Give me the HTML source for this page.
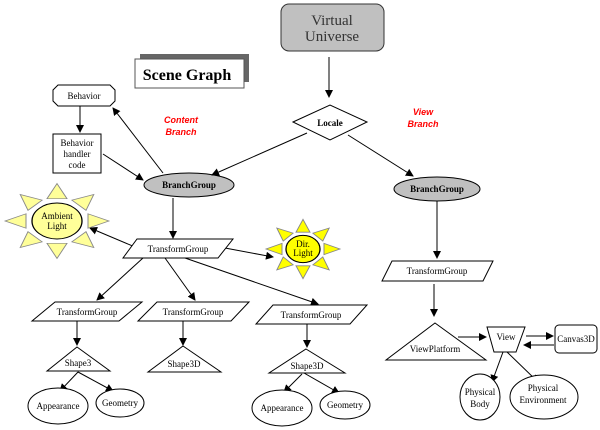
<!DOCTYPE html>
<html><head><style>
html,body{margin:0;padding:0;background:#fff;}
svg{display:block;}
text{font-family:"Liberation Serif",serif;font-size:9px;fill:#000;}
</style></head><body>
<svg width="600" height="430" viewBox="0 0 600 430" xmlns="http://www.w3.org/2000/svg">
<defs>
<marker id="a" markerWidth="8" markerHeight="8" refX="7" refY="4" orient="auto" markerUnits="userSpaceOnUse">
<path d="M0,0 L8,4 L0,8 z" fill="#000"/></marker>
<g id="ray"><path d="M31,-10 L31,10 L52,0 z"/></g>
<g id="ray2"><path d="M21,-7 L21,7 L37,0 z"/></g>
</defs>
<g stroke="#000" stroke-width="1" fill="none">
<!-- Virtual Universe -->
<rect x="281" y="4" width="103" height="47" rx="8" fill="#c0c0c0" stroke="#333"/>
<!-- Scene graph -->
<rect x="140" y="54" width="109" height="28" fill="#666" stroke="none"/>
<rect x="135" y="59" width="109" height="29" fill="#fff" stroke="#555"/>
<!-- Locale -->
<path d="M293,122 L330,105 L367,122 L330,140 z" fill="#fff"/>
<!-- Behavior -->
<path d="M58,85 L110,85 L115,90 L115,101 L110,106 L58,106 L53,101 L53,90 z" fill="#fff"/>
<rect x="53" y="134" width="48" height="39" fill="#fff"/>
<!-- BranchGroups -->
<ellipse cx="189" cy="185" rx="45" ry="12" fill="#c0c0c0"/>
<ellipse cx="437" cy="189" rx="43" ry="12" fill="#c0c0c0"/>
<!-- arrows -->
<g marker-end="url(#a)">
<line x1="329" y1="57" x2="329" y2="97"/>
<line x1="307" y1="133" x2="212" y2="175"/>
<line x1="348" y1="135" x2="413" y2="176"/>
<line x1="80" y1="106" x2="80" y2="132"/>
<line x1="103" y1="154" x2="143" y2="180"/>
<line x1="163" y1="173" x2="113" y2="108"/>
<line x1="173" y1="198" x2="173" y2="238"/>
<line x1="135" y1="247" x2="90" y2="228"/>
<line x1="225" y1="248" x2="273" y2="257"/>
<line x1="143" y1="258" x2="97" y2="300"/>
<line x1="165" y1="258" x2="195" y2="300"/>
<line x1="185" y1="258" x2="318" y2="304"/>
<line x1="77" y1="321" x2="77" y2="345"/>
<line x1="183" y1="321" x2="183" y2="345"/>
<line x1="307" y1="324" x2="307" y2="347"/>
<line x1="78" y1="372" x2="60" y2="391"/>
<line x1="78" y1="372" x2="113" y2="391"/>
<line x1="302" y1="374" x2="284" y2="392"/>
<line x1="304" y1="373" x2="339" y2="393"/>
<line x1="437" y1="201" x2="437" y2="258"/>
<line x1="434" y1="284" x2="434" y2="316"/>
<line x1="458" y1="337" x2="486" y2="337"/>
<line x1="526" y1="336" x2="553" y2="336"/>
<line x1="554" y1="345" x2="524" y2="345"/>
<line x1="503" y1="352" x2="492" y2="382"/>
<line x1="507" y1="352" x2="538" y2="382"/>
</g>
<!-- Suns -->
<g transform="translate(57,221) scale(1,0.72)" fill="#ffff99" stroke="#888">
<use href="#ray"/><use href="#ray" transform="rotate(45)"/><use href="#ray" transform="rotate(90)"/><use href="#ray" transform="rotate(135)"/>
<use href="#ray" transform="rotate(180)"/><use href="#ray" transform="rotate(225)"/><use href="#ray" transform="rotate(270)"/><use href="#ray" transform="rotate(315)"/>
<circle r="25" stroke="#000" stroke-width="1.3"/>
</g>
<g transform="translate(303,249) scale(1,0.8)" fill="#ffff00" stroke="#888">
<use href="#ray2"/><use href="#ray2" transform="rotate(45)"/><use href="#ray2" transform="rotate(90)"/><use href="#ray2" transform="rotate(135)"/>
<use href="#ray2" transform="rotate(180)"/><use href="#ray2" transform="rotate(225)"/><use href="#ray2" transform="rotate(270)"/><use href="#ray2" transform="rotate(315)"/>
<circle r="17" stroke="#000" stroke-width="1.3"/>
</g>
<!-- TransformGroups -->
<path d="M137,239 L233,239 L218,258 L123,258 z" fill="#fff"/>
<path d="M55,302 L142,302 L119,321 L32,321 z" fill="#fff"/>
<path d="M157,302 L249,302 L231,321 L138,321 z" fill="#fff"/>
<path d="M273,305 L367,305 L350,324 L256,324 z" fill="#fff"/>
<path d="M392,261 L493,261 L483,281 L382,281 z" fill="#fff"/>
<!-- Shapes -->
<path d="M77,347 L110,371 L47,371 z" fill="#fff"/>
<path d="M183,346 L221,372 L148,372 z" fill="#fff"/>
<path d="M306,349 L345,373 L269,373 z" fill="#fff"/>
<ellipse cx="58" cy="406" rx="30" ry="18" fill="#fff"/>
<ellipse cx="120" cy="403" rx="24" ry="14" fill="#fff"/>
<ellipse cx="282" cy="408" rx="30" ry="18" fill="#fff"/>
<ellipse cx="345" cy="405" rx="25" ry="14" fill="#fff"/>
<!-- View branch -->
<path d="M435,323 L486,360 L386,360 z" fill="#fff"/>
<path d="M487,327 L525,327 L516,352 L494,352 z" fill="#fff"/>
<rect x="555" y="325" width="42" height="28" rx="4" fill="#fff"/>
<ellipse cx="480" cy="397" rx="20" ry="23" fill="#fff"/>
<ellipse cx="544" cy="397" rx="34" ry="22" fill="#fff"/>
</g>
<!-- Text -->
<text x="332" y="25" text-anchor="middle" style="font-size:15px;fill:#333">Virtual</text>
<text x="332" y="41" text-anchor="middle" style="font-size:15px;fill:#333">Universe</text>
<text x="187" y="80" text-anchor="middle" style="font-size:16px;font-weight:bold">Scene Graph</text>
<text x="330" y="126" text-anchor="middle" style="font-weight:bold">Locale</text>
<text x="84" y="99" text-anchor="middle">Behavior</text>
<text x="77" y="146" text-anchor="middle">Behavior</text>
<text x="77" y="157" text-anchor="middle">handler</text>
<text x="77" y="168" text-anchor="middle">code</text>
<g style="font-family:'Liberation Sans',sans-serif;font-size:10px;font-weight:bold;font-style:italic">
<text x="181" y="123" text-anchor="middle" style="fill:#f00;font-family:'Liberation Sans',sans-serif">Content</text>
<text x="181" y="135" text-anchor="middle" style="fill:#f00;font-family:'Liberation Sans',sans-serif">Branch</text>
<text x="423" y="115" text-anchor="middle" style="fill:#f00;font-family:'Liberation Sans',sans-serif">View</text>
<text x="423" y="127" text-anchor="middle" style="fill:#f00;font-family:'Liberation Sans',sans-serif">Branch</text>
</g>
<text x="189" y="188" text-anchor="middle" style="font-weight:bold">BranchGroup</text>
<text x="437" y="192" text-anchor="middle" style="font-weight:bold">BranchGroup</text>
<text x="57" y="219" text-anchor="middle">Ambient</text>
<text x="57" y="229" text-anchor="middle">Light</text>
<text x="303" y="247" text-anchor="middle">Dir.</text>
<text x="303" y="256" text-anchor="middle">Light</text>
<text x="178" y="252" text-anchor="middle">TransformGroup</text>
<text x="87" y="315" text-anchor="middle">TransformGroup</text>
<text x="193" y="315" text-anchor="middle">TransformGroup</text>
<text x="311" y="318" text-anchor="middle">TransformGroup</text>
<text x="437" y="274" text-anchor="middle">TransformGroup</text>
<text x="78" y="366" text-anchor="middle">Shape3</text>
<text x="184" y="367" text-anchor="middle">Shape3D</text>
<text x="307" y="369" text-anchor="middle">Shape3D</text>
<text x="58" y="409" text-anchor="middle">Appearance</text>
<text x="120" y="406" text-anchor="middle">Geometry</text>
<text x="282" y="411" text-anchor="middle">Appearance</text>
<text x="345" y="408" text-anchor="middle">Geometry</text>
<text x="435" y="352" text-anchor="middle">ViewPlatform</text>
<text x="506" y="340" text-anchor="middle">View</text>
<text x="576" y="342" text-anchor="middle">Canvas3D</text>
<text x="480" y="395" text-anchor="middle">Physical</text>
<text x="480" y="407" text-anchor="middle">Body</text>
<text x="543" y="391" text-anchor="middle">Physical</text>
<text x="543" y="403" text-anchor="middle">Environment</text>
</svg>
</body></html>
